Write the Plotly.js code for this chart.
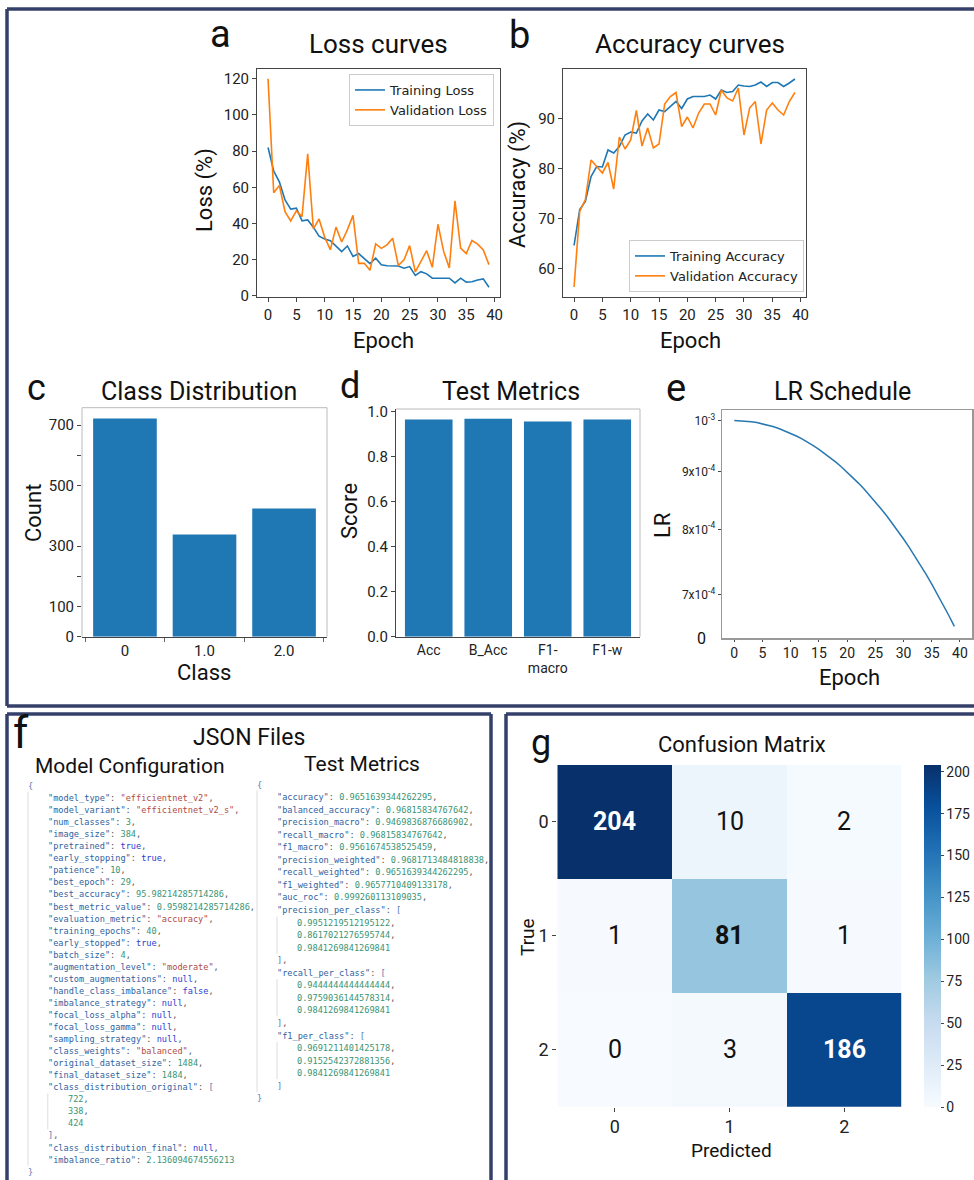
<!DOCTYPE html>
<html><head><meta charset="utf-8">
<script src="https://cdn.plot.ly/plotly-3.0.1.min.js"></script>
<style>html,body{margin:0;padding:0;background:#fff;overflow:hidden;}#chart{position:absolute;left:0;top:0;width:974px;height:1180px;}</style>
</head><body><div id="chart"></div>
<script>
// ---------------- DATA ----------------
const epochs = [0,1,2,3,4,5,6,7,8,9,10,11,12,13,14,15,16,17,18,19,20,21,22,23,24,25,26,27,28,29,30,31,32,33,34,35,36,37,38,39];
const trainLoss = [82,69,63,53,48,48.5,41.5,42,38,33,31.5,30.5,27.5,24.5,27.6,21.8,23.4,20.8,17.8,20.8,17.2,16.7,16.5,16.5,15.3,16.2,11.3,13.4,12.2,9.8,9.8,9.8,9.8,7.2,9.8,7.6,7.8,8.8,9.4,4.8];
const valLoss = [120,57,61,46.6,41.5,47,43.8,78.5,37,42.5,32.5,25.5,38,29.8,36.5,44.5,18,18,14.2,28.7,26.3,28.2,31.9,16.8,19.9,27.8,13.3,19,25,15.8,39.6,24.6,15.5,52.5,26.4,23.4,30.6,28.6,25.4,17.3];
const trainAcc = [64.6,71.8,73.4,78.4,80.4,80.3,83.7,83.1,84.4,86.7,87.3,87.1,89.5,90.9,89.7,91.7,91.4,92.4,93.4,92.0,93.9,94.4,94.4,94.4,94.7,93.9,95.7,95.2,95.4,96.7,96.5,96.4,96.7,97.3,96.4,97.2,97.2,96.4,97.1,97.9];
const valAcc = [56.3,71.4,73.8,81.7,80.4,79.1,81.2,75.9,86.3,83.9,85.7,91.6,84.5,88.1,84.1,84.9,92.9,94.4,95.2,88.4,90.3,88.1,91.1,92.9,92.9,90.7,95.7,94.1,93.5,96.1,86.7,92.1,93.4,84.9,91.7,93.1,91.7,90.7,93.4,95.2];
const classLabels = ['0','1.0','2.0'];
const classCounts = [722,338,424];
const metricLabels = ['Acc','B_Acc','F1-<br>macro','F1-w'];
const metricScores = [0.9652,0.9682,0.9562,0.9658];
const lrValues = [1.0000e-3,0.9997e-3,0.9990e-3,0.9977e-3,0.9959e-3,0.9935e-3,0.9907e-3,0.9873e-3,0.9835e-3,0.9791e-3,
  0.9743e-3,0.9689e-3,0.9631e-3,0.9568e-3,0.9500e-3,0.9427e-3,0.9350e-3,0.9269e-3,0.9182e-3,0.9092e-3,
  0.8997e-3,0.8899e-3,0.8796e-3,0.8689e-3,0.8578e-3,0.8464e-3,0.8346e-3,0.8225e-3,0.8101e-3,0.7973e-3,
  0.7842e-3,0.7709e-3,0.7572e-3,0.7434e-3,0.7292e-3,0.7149e-3,0.7003e-3,0.6855e-3,0.6706e-3,0.6555e-3];
const lrTickVals = [7e-4,8e-4,9e-4,1e-3];
const lrTickText = ['7x10<sup>-4</sup>','8x10<sup>-4</sup>','9x10<sup>-4</sup>','10<sup>-3</sup>'];
const cmLabels = ['0','1','2'];
const cmValues = [[204,10,2],[1,81,1],[0,3,186]];
const configLines = [
'{',
'    "model_type": "efficientnet_v2",',
'    "model_variant": "efficientnet_v2_s",',
'    "num_classes": 3,',
'    "image_size": 384,',
'    "pretrained": true,',
'    "early_stopping": true,',
'    "patience": 10,',
'    "best_epoch": 29,',
'    "best_accuracy": 95.98214285714286,',
'    "best_metric_value": 0.9598214285714286,',
'    "evaluation_metric": "accuracy",',
'    "training_epochs": 40,',
'    "early_stopped": true,',
'    "batch_size": 4,',
'    "augmentation_level": "moderate",',
'    "custom_augmentations": null,',
'    "handle_class_imbalance": false,',
'    "imbalance_strategy": null,',
'    "focal_loss_alpha": null,',
'    "focal_loss_gamma": null,',
'    "sampling_strategy": null,',
'    "class_weights": "balanced",',
'    "original_dataset_size": 1484,',
'    "final_dataset_size": 1484,',
'    "class_distribution_original": [',
'        722,',
'        338,',
'        424',
'    ],',
'    "class_distribution_final": null,',
'    "imbalance_ratio": 2.136094674556213',
'}'];
const metricsLines = [
'{',
'    "accuracy": 0.9651639344262295,',
'    "balanced_accuracy": 0.96815834767642,',
'    "precision_macro": 0.9469836876686902,',
'    "recall_macro": 0.96815834767642,',
'    "f1_macro": 0.9561674538525459,',
'    "precision_weighted": 0.9681713484818838,',
'    "recall_weighted": 0.9651639344262295,',
'    "f1_weighted": 0.9657710409133178,',
'    "auc_roc": 0.999260113109035,',
'    "precision_per_class": [',
'        0.9951219512195122,',
'        0.8617021276595744,',
'        0.9841269841269841',
'    ],',
'    "recall_per_class": [',
'        0.9444444444444444,',
'        0.9759036144578314,',
'        0.9841269841269841',
'    ],',
'    "f1_per_class": [',
'        0.9691211401425178,',
'        0.9152542372881356,',
'        0.9841269841269841',
'    ]',
'}'];

// ---------------- HELPERS ----------------
const W = 974, H = 1180;
const px = x => x / W;
const py = y => 1 - y / H;
const FONT = 'Roboto, sans-serif';
const BLUE = '#1f77b4', ORANGE = '#ff7f0e';
const FRAME = '#34406a';

const annotations = [];
const shapes = [];
function txt(t, x, y, size, opts) {
  annotations.push(Object.assign({text: t, x: px(x), y: py(y), xref: 'paper', yref: 'paper',
    showarrow: false, xanchor: 'center', yanchor: 'middle',
    font: {family: FONT, size: size, color: '#111'}}, opts || {}));
}
function seg(x0, y0, x1, y1) {
  shapes.push({type:'line', xref:'paper', yref:'paper', x0:px(x0), x1:px(x1), y0:py(y0), y1:py(y1), line:{color:FRAME, width:3.5}});
}

// frames (right edges lie outside the picture)
seg(7, 9, 974, 9); seg(7, 9, 7, 706); seg(7, 706, 974, 706);
seg(7, 714, 491, 714); seg(7, 714, 7, 1180); seg(491, 714, 491, 1180);
seg(506, 714, 974, 714); seg(506, 714, 506, 1180);

// panel letters, titles and axis titles
txt('a', 220, 34, 38);
txt('Loss curves', 378, 44, 26);
txt('Loss (%)', 205, 190, 22, {textangle:-90});
txt('Epoch', 383, 340, 22);
txt('b', 519, 35, 38);
txt('Accuracy curves', 690, 44, 26);
txt('Accuracy (%)', 518, 185, 22, {textangle:-90});
txt('Epoch', 690, 340, 22);
txt('c', 36, 388, 36);
txt('Class Distribution', 199, 391, 25);
txt('Count', 33, 513, 22, {textangle:-90});
txt('Class', 204, 673, 22);
txt('d', 350, 386, 36);
txt('Test Metrics', 511, 391, 25);
txt('Score', 349, 511, 22, {textangle:-90});
txt('e', 676, 388, 38);
txt('LR Schedule', 842, 391, 25);
txt('LR', 663, 525, 22, {textangle:-90});
txt('Epoch', 849, 677, 22);
txt('0', 701, 638, 16);
txt('f', 21, 733, 44);
txt('JSON Files', 249, 737, 23);
txt('Model Configuration', 130, 766, 21);
txt('Test Metrics', 362, 764, 21);
txt('g', 541, 743, 36);
txt('Confusion Matrix', 742, 744, 22);
txt('True', 527, 937, 19, {textangle:-90});
txt('Predicted', 731, 1150, 19);

// JSON code
const C = {key:'#2f62a0', str:'#b14a44', num:'#3a9474', lit:'#2c3ed0', punc:'#555', brace:'#5a78b0'};
function esc(s){return s.replace(/&/g,'&amp;').replace(/</g,'&lt;').replace(/>/g,'&gt;');}
function colorize(s) {
  let out = '', i = 0;
  const re = /("[^"]*")(\s*:)?|\b(true|false|null)\b|(-?\d+(?:\.\d+)?)|([\[\]{}])/g;
  let m;
  while ((m = re.exec(s)) !== null) {
    if (m.index > i) out += '<span style="color:' + C.punc + '">' + esc(s.slice(i, m.index)) + '</span>';
    if (m[1]) {
      if (m[2]) out += '<span style="color:' + C.key + '">' + esc(m[1]) + '</span><span style="color:' + C.punc + '">' + m[2] + '</span>';
      else out += '<span style="color:' + C.str + '">' + esc(m[1]) + '</span>';
    } else if (m[3]) out += '<span style="color:' + C.lit + '">' + m[3] + '</span>';
    else if (m[4]) out += '<span style="color:' + C.num + '">' + m[4] + '</span>';
    else if (m[5]) out += '<span style="color:' + C.brace + '">' + m[5] + '</span>';
    i = re.lastIndex;
  }
  if (i < s.length) out += '<span style="color:' + C.punc + '">' + esc(s.slice(i)) + '</span>';
  return out;
}
function codeBlock(lines, baseX, y0, dy, step) {
  let runStart = -1;
  lines.forEach((ln, i) => {
    const lead = ln.match(/^ */)[0].length;
    const lvl = lead / 4;
    const content = ln.trim();
    const y = y0 + dy * i;
    annotations.push({text: colorize(content), x: px(baseX + lvl * step), y: py(y), xref:'paper', yref:'paper',
      showarrow:false, xanchor:'left', yanchor:'middle', font:{family:'DejaVu Sans Mono, monospace', size:8.6, color:C.punc}});
    if (lvl === 2 && runStart < 0) runStart = i;
    if (lvl !== 2 && runStart >= 0) {
      shapes.push({type:'line', xref:'paper', yref:'paper', x0:px(baseX + step + 2), x1:px(baseX + step + 2),
        y0:py(y0 + dy * runStart - 6), y1:py(y0 + dy * (i - 1) + 6), line:{color:'#dddddd', width:1}});
      runStart = -1;
    }
  });
  shapes.push({type:'line', xref:'paper', yref:'paper', x0:px(baseX + 2), x1:px(baseX + 2),
    y0:py(y0 + 6), y1:py(y0 + dy * (lines.length - 1) - 6), line:{color:'#dddddd', width:1}});
}
codeBlock(configLines, 26, 786, 12.05, 19.8);
codeBlock(metricsLines, 255, 784.5, 12.55, 20);

// confusion matrix cell labels
const cmMax = Math.max(...cmValues.flat());
cmValues.forEach((row, i) => row.forEach((v, j) => {
  const t = (i === j) ? '<b>' + v + '</b>' : String(v);
  annotations.push({text: t, x: j, y: i, xref:'x6', yref:'y6', showarrow:false,
    font:{family:FONT, size:25, color: v > cmMax * 0.5 ? '#ffffff' : '#111111'}});
}));

// light top/right spines for c and d
[['x3','y3'],['x4','y4']].forEach(([xa, ya]) => {
  shapes.push({type:'line', xref:xa+' domain', yref:ya+' domain', x0:0, x1:1, y0:1, y1:1, line:{color:'#bbbbbb', width:1}});
  shapes.push({type:'line', xref:xa+' domain', yref:ya+' domain', x0:1, x1:1, y0:0, y1:1, line:{color:'#bbbbbb', width:1}});
});
shapes.push({type:'line', xref:'x3 domain', yref:'y3 domain', x0:0, x1:0, y0:0, y1:1, line:{color:'#bbbbbb', width:1}});

// ---------------- TRACES ----------------
const traces = [
  {x: epochs, y: trainLoss, type:'scatter', mode:'lines', name:'Training Loss', line:{color:BLUE, width:1.6}, xaxis:'x', yaxis:'y', legend:'legend'},
  {x: epochs, y: valLoss, type:'scatter', mode:'lines', name:'Validation Loss', line:{color:ORANGE, width:1.6}, xaxis:'x', yaxis:'y', legend:'legend'},
  {x: epochs, y: trainAcc, type:'scatter', mode:'lines', name:'Training Accuracy', line:{color:BLUE, width:1.6}, xaxis:'x2', yaxis:'y2', legend:'legend2'},
  {x: epochs, y: valAcc, type:'scatter', mode:'lines', name:'Validation Accuracy', line:{color:ORANGE, width:1.6}, xaxis:'x2', yaxis:'y2', legend:'legend2'},
  {x: classLabels.map((_, i) => i), y: classCounts, type:'bar', width:0.8, marker:{color:BLUE}, xaxis:'x3', yaxis:'y3', showlegend:false},
  {x: metricLabels.map((_, i) => i), y: metricScores, type:'bar', width:0.8, marker:{color:BLUE}, xaxis:'x4', yaxis:'y4', showlegend:false},
  {x: epochs, y: lrValues, type:'scatter', mode:'lines', line:{color:'#2878b0', width:1.5}, xaxis:'x5', yaxis:'y5', showlegend:false},
  {z: cmValues, x: cmLabels.map((_, i) => i), y: cmLabels.map((_, i) => i), type:'heatmap', xaxis:'x6', yaxis:'y6', zmin:0, zmax:cmMax,
   colorscale:[[0,'#f7fbff'],[0.125,'#deebf7'],[0.25,'#c6dbef'],[0.375,'#9ecae1'],[0.5,'#6baed6'],[0.625,'#4292c6'],[0.75,'#2171b5'],[0.875,'#08519c'],[1,'#08306b']],
   showscale:true, hoverinfo:'skip',
   colorbar:{x:px(924), xanchor:'left', xpad:0, ypad:0, y:py(936), yanchor:'middle', len:(1106.7-765)/H, lenmode:'fraction', thickness:17,
     outlinewidth:0, tickvals:[0,25,50,75,100,125,150,175,200], ticks:'outside', ticklen:3, tickcolor:'#444',
     tickfont:{family:FONT, size:14, color:'#222'}}}
];

// ---------------- LAYOUT ----------------
const tickFont = {family:FONT, size:15, color:'#222'};
function baseAxis(extra) {
  return Object.assign({showgrid:false, zeroline:false, showline:true, linecolor:'#444', linewidth:1,
    ticks:'outside', ticklen:4, tickcolor:'#444', tickfont:tickFont, mirror:false, automargin:false}, extra);
}
const layout = {
  width: W, height: H, autosize:false,
  margin:{l:0, r:0, t:0, b:0, pad:0, autoexpand:false},
  paper_bgcolor:'#ffffff', plot_bgcolor:'#ffffff',
  font:{family:FONT, color:'#111'},
  showlegend:true,
  xaxis: baseAxis({domain:[px(257), px(500)], range:[-1.95, 40.95], tickmode:'linear', tick0:0, dtick:5, mirror:true, anchor:'y'}),
  yaxis: baseAxis({domain:[py(297), py(69)], range:[-0.6, 125.4], tickmode:'linear', tick0:0, dtick:20, mirror:true, anchor:'x'}),
  xaxis2: baseAxis({domain:[px(563), px(806)], range:[-1.95, 40.95], tickmode:'linear', tick0:0, dtick:5, mirror:true, anchor:'y2'}),
  yaxis2: baseAxis({domain:[py(297), py(69)], range:[54.3, 99.9], tickvals:[60,70,80,90], mirror:true, anchor:'x2'}),
  xaxis3: baseAxis({domain:[px(82), px(327)], range:[-0.54, 2.54], tickvals:[0,1,2], ticktext:classLabels, ticks:'', anchor:'y3',
    minor:{tickmode:'array', tickvals:[-0.5,0.5,1.5,2.5], ticks:'outside', ticklen:4, tickcolor:'#666'}}),
  yaxis3: baseAxis({domain:[py(636.7), py(407.7)], range:[0, 758], tickvals:[0,100,200,300,500,600,700], ticktext:['0','100',' ','300','500',' ','700'], showline:false, anchor:'x3'}),
  xaxis4: baseAxis({domain:[px(396), px(640)], range:[-0.55, 3.55], tickvals:[0,1,2,3], ticktext:metricLabels, ticks:'', tickfont:{family:FONT, size:14, color:'#222'}, anchor:'y4'}),
  yaxis4: baseAxis({domain:[py(636.7), py(409)], range:[0, 1.012], tickvals:[0,0.2,0.4,0.6,0.8,1.0], ticktext:['0.0','0.2','0.4','0.6','0.8','1.0'], anchor:'x4'}),
  xaxis5: baseAxis({domain:[px(722), px(972)], range:[-2.18, 42.13], tickmode:'linear', tick0:0, dtick:5, mirror:true, linecolor:'#999', linewidth:1.5,
    ticklen:2, tickfont:{family:FONT, size:14, color:'#222'}, anchor:'y5'}),
  yaxis5: baseAxis({domain:[py(638), py(410)], type:'log', range:[Math.log10(6.4e-4), Math.log10(1.022e-3)], tickvals:lrTickVals, ticktext:lrTickText,
    tickfont:{family:FONT, size:12, color:'#222'}, ticklen:3, mirror:true, linecolor:'#999', linewidth:1.5, anchor:'x5'}),
  xaxis6: {domain:[px(557.3), px(901.7)], range:[-0.5, 2.5], tickvals:[0,1,2], ticktext:cmLabels, showgrid:false, zeroline:false, showline:false, automargin:false,
    ticks:'outside', ticklen:4, tickcolor:'#444', tickfont:{family:FONT, size:18, color:'#222'}, anchor:'y6'},
  yaxis6: {domain:[py(1106.7), py(765)], range:[2.5, -0.5], tickvals:[0,1,2], ticktext:cmLabels, showgrid:false, zeroline:false, showline:false, automargin:false,
    ticks:'outside', ticklen:4, tickcolor:'#444', tickfont:{family:FONT, size:18, color:'#222'}, anchor:'x6'},
  legend: {x:px(494), y:py(74), xanchor:'right', yanchor:'top', bgcolor:'rgba(255,255,255,0.9)', bordercolor:'#cccccc', borderwidth:1,
    font:{family:'DejaVu Sans, sans-serif', size:13, color:'#222'}, tracegroupgap:0},
  legend2: {x:px(804), y:py(292), xanchor:'right', yanchor:'bottom', bgcolor:'rgba(255,255,255,0.9)', bordercolor:'#cccccc', borderwidth:1,
    font:{family:'DejaVu Sans, sans-serif', size:13, color:'#222'}, tracegroupgap:0},
  annotations: annotations,
  shapes: shapes
};

Plotly.newPlot('chart', traces, layout, {staticPlot:true, displayModeBar:false});
</script>
</body></html>
